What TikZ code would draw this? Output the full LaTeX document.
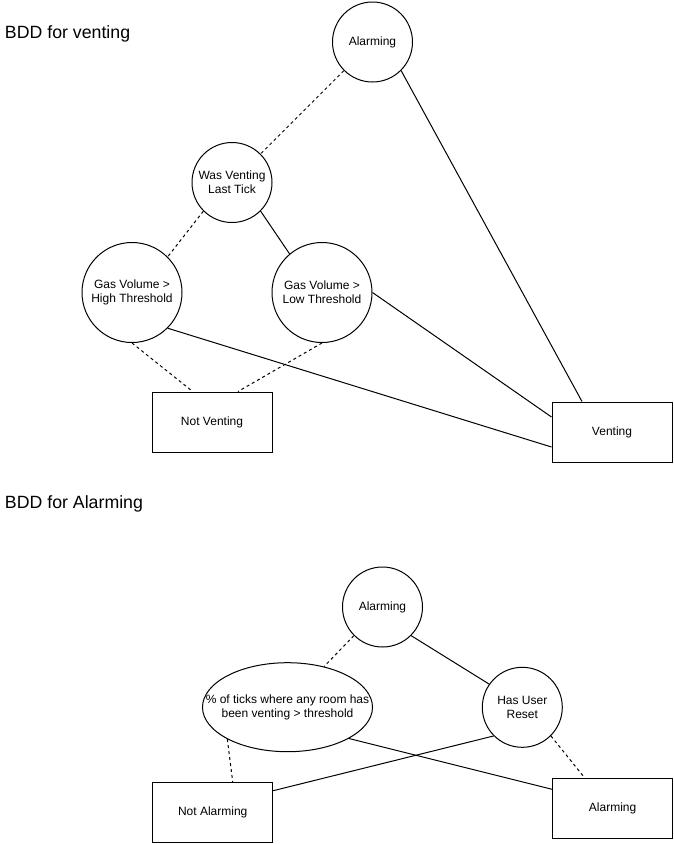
\documentclass[tikz,border=0pt]{standalone}
\usepackage{fontspec}
\setmainfont{Liberation Sans}
\usetikzlibrary{shapes.geometric}

\begin{document}
\begin{tikzpicture}[
			x=0.75pt, y=-0.75pt, line width=0.75pt,
			title/.style={anchor=base west, inner sep=0pt, font=\fontsize{13.3}{16}\selectfont},
			test/.style={circle, draw, minimum size=60pt, inner sep=0pt, align=center, font=\fontsize{9}{10.5}\selectfont},
			bigtest/.style={test, minimum size=75pt},
			oval/.style={ellipse, draw, minimum width=127.5pt, minimum height=66.75pt, inner sep=0pt},
			ovaltext/.style={inner sep=0pt, align=center, font=\fontsize{9}{10.5}\selectfont},
			leaf/.style={rectangle, draw, minimum width=90pt, minimum height=45pt, inner sep=0pt, font=\fontsize{9}{10.5}\selectfont},
			low/.style={dash pattern=on 2.25pt off 2.25pt},
			high/.style={}
			]
			\useasboundingbox (0,0) rectangle (674,844);
			
			% BDD pro venting
			\node[title] (tvent) at (4.5,38) {BDD for venting};
			
			\node[test] (alarm) at (372.5,42) {Alarming};
			\node[test] (wasvent) at (232,182.5) {Was Venting\\Last Tick};
			\node[bigtest] (highgas) at (132,292.5) {Gas Volume >\\High Threshold};
			\node[bigtest] (lowgas) at (322,292.5) {Gas Volume >\\Low Threshold};
			\node[leaf] (notvent) at (212,422) {Not Venting};
			\node[leaf] (vent) at (612,432) {Venting};
			
			\draw[low] (alarm.225) -- (wasvent.45);
			\draw[high] (alarm.-45) -- ([xshift=-22.5pt]vent.north);
			\draw[low] (wasvent.225) -- (highgas.45);
			\draw[high] (wasvent.-45) -- (lowgas.130);
			\draw[low] (highgas.south) -- ([xshift=-14.5pt]notvent.north);
			\draw[low] (lowgas.south) -- ([xshift=19.5pt]notvent.north);
			\draw[high] (highgas.-45) -- ([yshift=-11.25pt]vent.west);
			\draw[high] (lowgas.east) -- ([yshift=11.25pt]vent.west);
			
			% BDD pro alarming
			\node[title] (talarm) at (4.5,508) {BDD for Alarming};
			
			\node[test] (alarmb) at (382.5,607) {Alarming};
			\node[oval, label={[ovaltext]center:\% of ticks where any room has\\been venting > threshold}] (ticks) at (287.5,707.2) {};
			\node[test] (reset) at (522.3,707.3) {Has User\\Reset};
			\node[leaf] (notalarm) at (212.7,812.3) {Not Alarming};
			\node[leaf] (alarmleaf) at (612.6,808.3) {Alarming};
			
			\draw[low] (alarmb.225) -- (ticks.48);
			\draw[high] (alarmb.-45) -- (reset.145);
			\draw[low] (ticks.208) -- ([xshift=15pt]notalarm.north);
			\draw[high] (ticks.-27) -- ([yshift=14.25pt]alarmleaf.west);
			\draw[high] (reset.225) -- ([yshift=16.2pt]notalarm.east);
			\draw[low] (reset.-45) -- ([xshift=-21pt]alarmleaf.north);
			
		\end{tikzpicture}
\end{document}
